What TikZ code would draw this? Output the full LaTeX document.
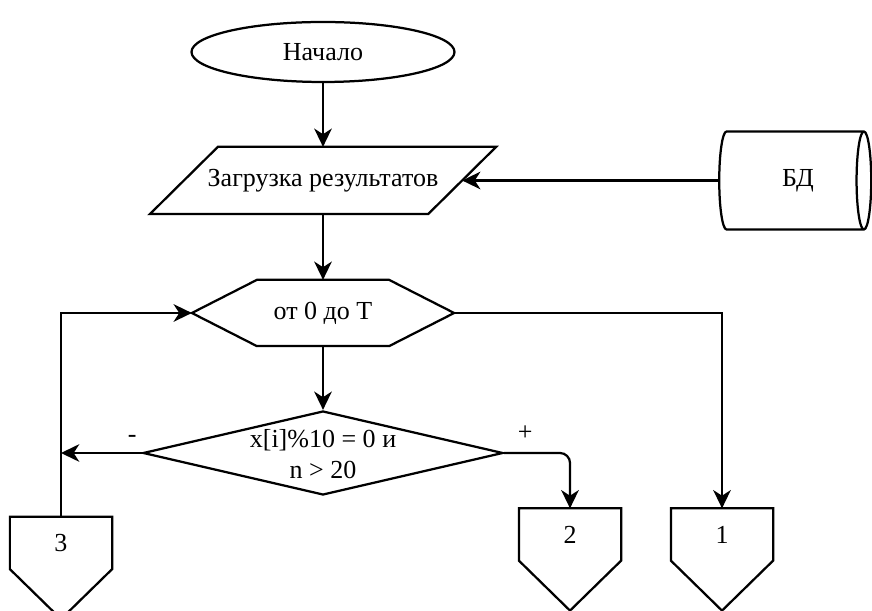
\documentclass[tikz,border=0pt]{standalone}
\usepackage{fontspec}
\setmainfont{Liberation Serif}
\usetikzlibrary{
    arrows.meta,
    positioning,
    shapes.geometric
}

\begin{document}
\begin{tikzpicture}[
    >=Stealth,
    font=\fontsize{18.5}{22}\selectfont,
    line width=1.6pt,
    % ── Node Styles ──
    term/.style={
        draw, ellipse, inner sep=0pt,
        minimum width=6.575cm, minimum height=1.5cm
    },
    io/.style={
        inner sep=0pt, minimum width=6.9cm, minimum height=1.625cm
    },
    store/.style={
        draw, cylinder, aspect=0.65, inner sep=0pt,
        minimum width=2.45cm, minimum height=3.8cm
    },
    loopbox/.style={
        inner sep=0pt, minimum width=6.5cm, minimum height=1.6cm
    },
    decision/.style={
        draw, diamond, aspect=4.3, inner sep=0pt,
        minimum width=9cm, minimum height=2.1cm
    },
    offpage/.style={
        inner sep=0pt, minimum width=2.5cm, minimum height=1.25cm
    },
    % ── Arrow Styles ──
    arr/.style={->, >={Stealth[length=13pt, width=12.5pt, inset=4pt]}},
    lbl/.style={inner sep=1pt},
]
\useasboundingbox (0, 0) rectangle (21.8, 15.275);

% ────────────────────────────────
%  MAIN COLUMN
% ────────────────────────────────
\node[term] (start) at (8.075, 13.975) {Начало};
\node[io] (load) at (8.075, 10.7625) {Загрузка результатов};
\node[loopbox] (loop) at (8.075, 7.45) {\raisebox{-2pt}{от 0 до T}};
\node[decision] (cond) at (8.075, 3.95) {\smash{\raisebox{-7pt}{%
    \begin{tabular}{@{}c@{}}x[i]\%10 = 0 и\\ n > 20\end{tabular}}}};

% parallelogram and hexagon outlines
\draw ([xshift=-0.85cm]load.south west) -- ([xshift=0.85cm]load.north west)
    -- ([xshift=0.85cm]load.north east) -- ([xshift=-0.85cm]load.south east) -- cycle;
\draw (loop.west) -- ([xshift=1.625cm]loop.north west)
    -- ([xshift=-1.625cm]loop.north east) -- (loop.east)
    -- ([xshift=-1.625cm]loop.south east) -- ([xshift=1.625cm]loop.south west) -- cycle;

% ── Database ──
\node[store] (db) at (19.775, 10.7625) {\hspace{10pt}БД};

% ── Off-page connectors ──
\node[offpage] (c3) at (1.525, 1.7) {3};
\node[offpage] (c2) at (14.25, 1.9125) {2};
\node[offpage] (c1) at (18.05, 1.9125) {1};

\foreach \c in {c3, c2, c1}
    \draw (\c.north west) -- (\c.north east) -- (\c.south east)
        -- ([yshift=-1.25cm]\c.south) -- (\c.south west) -- cycle;

\coordinate (nojoin) at (c3.north |- cond.west);

% ────────────────────────────────
%  CONNECTORS
% ────────────────────────────────
\draw[arr] (start) -- (load);
\draw[arr] (db.west) -- (load.east);
\draw[arr] (load) -- (loop);
\draw[arr] (loop) -- (cond);

\draw[arr] (cond.west) -- (nojoin)
    node[pos=0.12, above=6pt, lbl] (minus) {-};
\draw[arr, rounded corners=0.25cm] (cond.east) -| (c2.north)
    node[pos=0.16, above=7pt, lbl] (plus) {+};

\draw[arr] (c3.north) |- (loop.west);
\draw[arr] (loop.east) -| (c1.north);

\end{tikzpicture}
\end{document}
